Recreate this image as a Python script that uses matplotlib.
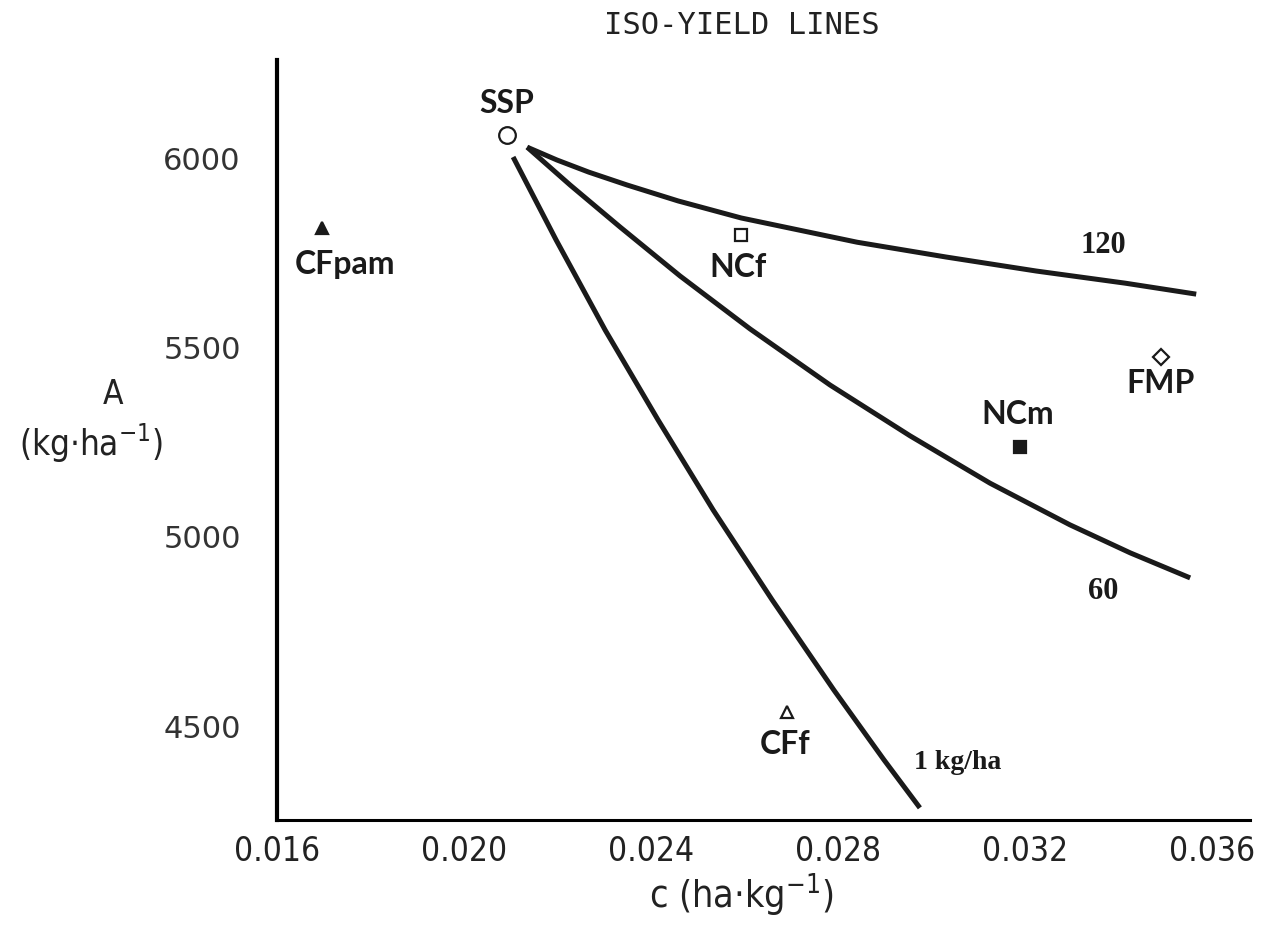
import matplotlib
matplotlib.use('Agg')
import matplotlib.pyplot as plt

# iso-yield lines (c in ha/kg, A in kg/ha)
c_1kg = [0.02105, 0.02197, 0.02302, 0.02415, 0.02533, 0.02659, 0.02791, 0.02898, 0.02975]
a_1kg = [6003, 5784, 5546, 5309, 5071, 4834, 4596, 4412, 4285]

c_60 = [0.02135, 0.02227, 0.02334, 0.02462, 0.02612, 0.02783, 0.02954, 0.03125, 0.03296, 0.03425, 0.03553]
a_60 = [6029, 5929, 5818, 5689, 5549, 5401, 5267, 5142, 5032, 4958, 4892]

c_120 = [0.02135, 0.02199, 0.02267, 0.02349, 0.02458, 0.02593, 0.02841, 0.03031, 0.03224, 0.03414, 0.03566]
a_120 = [6029, 5995, 5963, 5929, 5887, 5842, 5778, 5739, 5702, 5670, 5641]

# systems
names = ['SSP', 'CFpam', 'NCf', 'NCm', 'FMP', 'CFf']
c_pts = [0.02092, 0.01696, 0.02592, 0.0319, 0.0349, 0.02691]
a_pts = [6061, 5815, 5797, 5237, 5475, 4538]
markers = ['o', '^', 's', 's', 'D', '^']
filled = [False, True, False, True, False, False]
msize = [12, 8, 9, 9, 8, 8]
label_dx = [0.0, 0.00049, -0.00006, -0.00005, -0.00001, -0.00004]
label_dy = [84, -97, -85, 85, -69, -87]

xticks = [0.016, 0.020, 0.024, 0.028, 0.032, 0.036]
yticks = [4500, 5000, 5500, 6000]

plt.rcParams['mathtext.default'] = 'regular'
ink = '#1a1a1a'

fig = plt.figure(figsize=(12.63, 9.32), dpi=100)
ax = fig.add_axes([0.2193, 0.1202, 0.7704, 0.8154])

lw = 3.6
for cs, As in [(c_1kg, a_1kg), (c_60, a_60), (c_120, a_120)]:
    ax.plot(cs, As, color=ink, lw=lw, solid_capstyle='butt', solid_joinstyle='round')

for n, cx, ay, m, f, ms, dx, dy in zip(names, c_pts, a_pts, markers, filled, msize, label_dx, label_dy):
    ax.plot(cx, ay, marker=m, ms=ms, mfc=ink if f else 'white',
            mec=ink, mew=1.6, ls='none')
    ax.text(cx + dx, ay + dy, n, ha='center', va='center', fontsize=23,
            fontweight='bold', family=['Lato', 'DejaVu Sans'], color=ink)

serif = ['Liberation Serif', 'DejaVu Serif']
ax.text(0.03367, 5770, '120', ha='center', va='center', fontsize=22,
        fontweight='bold', family=serif, color=ink)
ax.text(0.03367, 4855, '60', ha='center', va='center', fontsize=22,
        fontweight='bold', family=serif, color=ink)
ax.text(0.03055, 4406, '1 kg/ha', ha='center', va='center', fontsize=20,
        fontweight='bold', family=serif, color=ink)

ax.set_xlim(0.016, 0.03681)
ax.set_ylim(4253, 6259)
ax.set_xticks(xticks)
ax.set_xticklabels([f'{t:.3f}' for t in xticks], fontsize=24,
                   fontstretch='condensed', color='#222222')
ax.set_yticks(yticks)
ax.set_yticklabels([str(t) for t in yticks], fontsize=22, color='#333333')
ax.tick_params(axis='x', length=0, pad=11)
ax.tick_params(axis='y', length=0, pad=26)

for s in ['top', 'right']:
    ax.spines[s].set_visible(False)
ax.spines['left'].set_linewidth(3)
ax.spines['bottom'].set_linewidth(2.2)

fig.text(0.5867, 0.0397, 'c (ha$\\cdot$kg$^{-1}$)', ha='center', va='center',
         fontsize=27, fontstretch='condensed', color='#222222')
fig.text(0.0895, 0.577, 'A', ha='center', va='center',
         fontsize=24, fontstretch='condensed', color='#222222')
fig.text(0.072, 0.524, '(kg$\\cdot$ha$^{-1}$)', ha='center', va='center',
         fontsize=25, fontstretch='condensed', color='#222222')
fig.text(0.5875, 0.973, 'ISO-YIELD LINES', ha='center', va='center',
         family=['DejaVu Sans Mono'], fontsize=22, color='#222222')

fig.savefig('out.png', dpi=100, facecolor='white')
